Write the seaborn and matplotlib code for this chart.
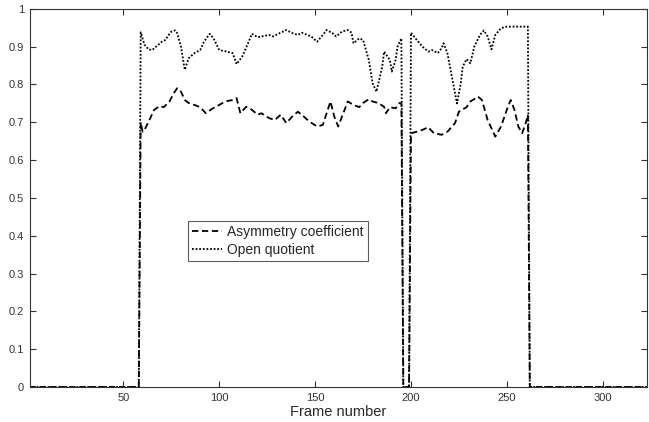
import matplotlib
matplotlib.use('Agg')
import matplotlib.pyplot as plt
import seaborn as sns
from matplotlib.ticker import FormatStrFormatter

# Values (frame, value)
asym_frames = [1, 58, 59, 60, 61, 64, 66, 69, 71, 74, 76, 78, 80, 82, 84, 87, 90, 93, 96,
               100, 103, 107, 109, 111, 114, 117, 120, 122, 126, 129,
               132, 135, 138, 141, 143, 147, 151, 154, 156, 158, 160, 162, 165, 167, 170,
               173, 175, 178, 180, 183, 186, 187, 189, 192, 194, 195, 196, 199,
               200, 203, 206, 209, 212, 216, 219, 223, 225, 229, 231, 235, 237, 240, 242,
               244, 247, 250, 252, 254, 256, 258, 260, 261, 262, 323]
asym_values = [0, 0, 0.700, 0.675, 0.680, 0.711, 0.733, 0.743, 0.740, 0.755, 0.775, 0.790,
               0.781, 0.759, 0.751, 0.746, 0.740, 0.724, 0.735,
               0.746, 0.755, 0.759, 0.764, 0.724, 0.741, 0.733, 0.720, 0.724, 0.711, 0.706,
               0.720, 0.698, 0.715, 0.728, 0.720, 0.702, 0.689, 0.693, 0.724, 0.755, 0.715,
               0.689, 0.728, 0.755, 0.746,
               0.740, 0.751, 0.761, 0.755, 0.751, 0.741, 0.724, 0.740, 0.737, 0.751, 0.750,
               0, 0,
               0.671, 0.675, 0.680, 0.687, 0.671, 0.667, 0.675, 0.698, 0.728, 0.740, 0.755,
               0.768, 0.759, 0.706, 0.684,
               0.662, 0.689, 0.733, 0.759, 0.733, 0.689, 0.671, 0.700, 0.720, 0, 0]

oq_frames = [1, 58, 59, 61, 63, 65, 67, 70, 72, 73, 75, 77, 78, 80, 82, 84, 87, 90, 92, 95,
             97, 100, 103, 107, 109, 112, 115, 117, 120, 122, 126, 128,
             132, 135, 138, 141, 143, 146, 148, 151, 154, 156, 159, 161, 164, 167, 169, 170,
             173, 175, 178, 180, 182, 185, 186, 189, 190, 192, 193, 195, 196, 199,
             200, 203, 206, 209, 211, 214, 216, 217, 219, 222, 224, 226, 227, 229, 231, 233,
             236, 238, 240, 242, 244, 247, 250, 256, 261, 262, 323]
oq_values = [0, 0, 0.938, 0.905, 0.893, 0.891, 0.900, 0.913, 0.918, 0.927, 0.940, 0.943,
             0.936, 0.900, 0.839, 0.869, 0.883, 0.891, 0.913, 0.934,
             0.922, 0.891, 0.888, 0.883, 0.854, 0.874, 0.909, 0.934, 0.925, 0.927, 0.931,
             0.927,
             0.937, 0.944, 0.936, 0.931, 0.937, 0.931, 0.927, 0.913, 0.931, 0.944, 0.936,
             0.927, 0.940, 0.944, 0.937, 0.909,
             0.922, 0.918, 0.865, 0.803, 0.781, 0.847, 0.887, 0.865, 0.834, 0.865, 0.900,
             0.922, 0, 0,
             0.937, 0.918, 0.900, 0.887, 0.891, 0.883, 0.896, 0.909, 0.883, 0.803, 0.750,
             0.803, 0.847, 0.867, 0.856, 0.900,
             0.931, 0.943, 0.927, 0.893, 0.931, 0.949, 0.953, 0.953, 0.953, 0, 0]

sns.set_style('ticks')
plt.rcParams['font.family'] = ['Liberation Sans', 'DejaVu Sans']

fig = plt.figure(figsize=(6.49, 4.22), dpi=100)
ax = fig.add_axes([0.0455, 0.083, 0.951, 0.896])

sns.lineplot(x=asym_frames, y=asym_values, ax=ax, color='black', linewidth=1.3,
             linestyle=(0, (3.5, 2)), label='Asymmetry coefficient')
sns.lineplot(x=oq_frames, y=oq_values, ax=ax, color='black', linewidth=1.3,
             linestyle=(0, (1, 1)), label='Open quotient')

ax.set_xlim(1, 323)
ax.set_ylim(0, 1)
ax.set_xticks([50, 100, 150, 200, 250, 300])
ax.set_yticks([i / 10 for i in range(11)])
ax.yaxis.set_major_formatter(FormatStrFormatter('%g'))
ax.tick_params(direction='in', top=True, right=True, length=4, width=0.8,
               labelsize=8, labelcolor='#333333', color='#333333', pad=4)
for sp in ax.spines.values():
    sp.set_visible(True)
    sp.set_color('#333333')
    sp.set_linewidth(0.8)

ax.set_xlabel('Frame number', fontsize=10.5, labelpad=2)
ax.set_ylabel('')

leg = ax.legend(loc='upper left', bbox_to_anchor=(0.256, 0.439), borderaxespad=0,
                fontsize=10, frameon=True, fancybox=False, handlelength=2.2,
                handletextpad=0.35, borderpad=0.3, labelspacing=0.25)
leg.get_frame().set_edgecolor('#333333')
leg.get_frame().set_linewidth(0.8)

fig.savefig('out.png', dpi=100, facecolor='white')
